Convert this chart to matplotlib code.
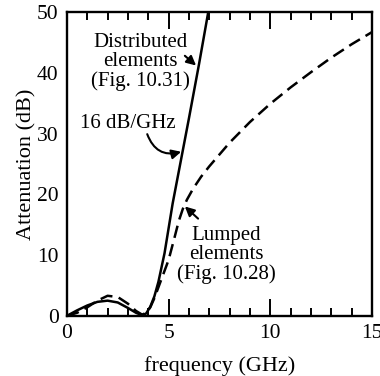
import matplotlib
matplotlib.use("Agg")
import matplotlib.pyplot as plt
from matplotlib.ticker import MultipleLocator

plt.rcParams['font.family'] = ['Liberation Serif', 'DejaVu Serif']

# Distributed-element filter response
dist_f = [0, 0.5, 1.0, 1.5, 2.0, 2.5, 3.0, 3.4, 3.7, 3.9, 4.1, 4.3, 4.5, 4.8, 5.2, 5.6, 6.0, 6.5, 6.95]
dist_db = [0, 0.9, 1.7, 2.3, 2.5, 2.2, 1.3, 0.5, 0.1, 0.4, 1.5, 3.2, 5.6, 10.3, 18.5, 25.5, 32.5, 41.5, 50]

# Lumped-element filter response
lump_f = [0, 0.5, 1.0, 1.5, 2.0, 2.5, 3.0, 3.4, 3.7, 3.9, 4.1, 4.3, 4.6, 5.0, 5.3, 5.5, 5.7, 5.9,
          6.2, 6.6, 7, 8, 9, 10, 11, 12, 13, 14, 15]
lump_db = [0, 0.5, 1.4, 2.5, 3.3, 3.1, 2.0, 0.8, 0.2, 0.5, 1.4, 2.9, 5.6, 9.2, 13.0, 15.6, 17.6, 19.1,
           20.9, 22.9, 24.6, 28.5, 31.9, 34.9, 37.6, 40.1, 42.5, 44.7, 46.7]

x_ticks = [0, 5, 10, 15]
y_ticks = [0, 10, 20, 30, 40, 50]

fig = plt.figure(figsize=(3.8, 3.76), dpi=100)
ax = fig.add_axes([0.176, 0.160, 0.803, 0.808])

ax.plot(dist_f, dist_db, color='black', lw=1.8, solid_capstyle='butt')
ax.plot(lump_f, lump_db, color='black', lw=1.8, dashes=(5, 2.6))

ax.set_xlim(0, 15)
ax.set_ylim(0, 50)
ax.set_xticks(x_ticks)
ax.set_yticks(y_ticks)
ax.xaxis.set_minor_locator(MultipleLocator(1))

for s in ax.spines.values():
    s.set_linewidth(1.7)

ax.tick_params(axis='x', which='both', direction='in', top=True, bottom=True,
               width=1.4, labelsize=15.5, pad=6)
ax.tick_params(axis='x', which='major', length=12)
ax.tick_params(axis='x', which='minor', length=5.5)
ax.tick_params(axis='y', which='both', length=0, labelsize=15.5, pad=6)

ax.set_xlabel('frequency (GHz)', fontsize=16, labelpad=9)
ax.set_ylabel('Attenuation (dB)', fontsize=16, labelpad=0)

arrow = dict(arrowstyle='-|>', color='black', lw=1.5, mutation_scale=14, shrinkA=0, shrinkB=0)

ax.text(3.6, 41.8, 'Distributed\nelements\n(Fig. 10.31)', ha='center', va='center',
        fontsize=15, linespacing=1.0)
ax.annotate('', xy=(6.35, 41.2), xytext=(5.8, 42.8), arrowprops=arrow)

ax.text(3.0, 31.7, '16 dB/GHz', ha='center', va='center', fontsize=15)
ax.annotate('', xy=(5.62, 27.0), xytext=(3.95, 29.9),
            arrowprops=dict(arrow, connectionstyle='arc3,rad=0.45'))

ax.text(7.85, 10.0, 'Lumped\nelements\n(Fig. 10.28)', ha='center', va='center',
        fontsize=15, linespacing=1.0)
ax.annotate('', xy=(5.8, 18.0), xytext=(6.45, 16.0), arrowprops=arrow)

fig.savefig('out.png', dpi=100)
